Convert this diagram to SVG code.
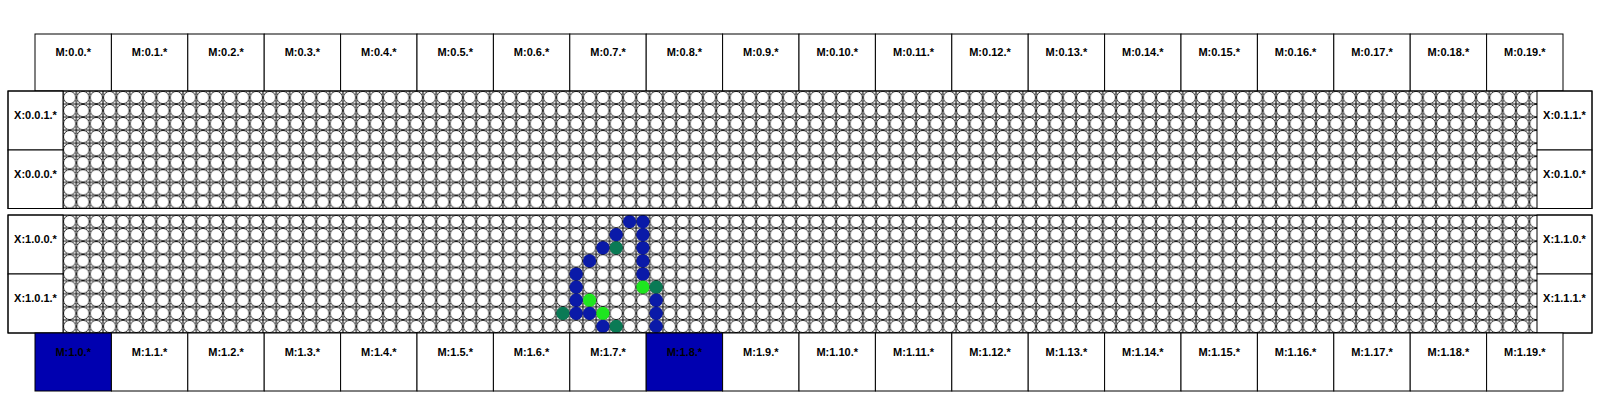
<svg xmlns="http://www.w3.org/2000/svg" width="1600" height="400" viewBox="0 0 1600 400">
<style>
.box{fill:#fff;stroke:#000;stroke-width:1}
.sel{fill:#0000b0;stroke:#000;stroke-width:1}
.frame{fill:none;stroke:#000;stroke-width:1}
text{font-family:"Liberation Sans",Arial,Helvetica,sans-serif;font-weight:bold;font-size:11px;text-anchor:middle;fill:#000}
.b{fill:#0a1aa8}
.t{fill:#0a7a55}
.g{fill:#1fe61f}
</style>
<defs>
<pattern id="cells1" patternUnits="userSpaceOnUse" x="69.665" y="97.53" width="13.33" height="13.056">
<rect width="13.33" height="13.056" fill="#fff"/>
<g fill="#fff" stroke="#000" stroke-width="0.9">
<circle cx="0" cy="0" r="6.2"/><circle cx="13.33" cy="0" r="6.2"/><circle cx="0" cy="13.056" r="6.2"/><circle cx="13.33" cy="13.056" r="6.2"/>
</g>
<path d="M2.9,6.528H10.43M6.665,2.8V10.256" stroke="#000" stroke-width="1.1"/>
</pattern>
<pattern id="cells2" patternUnits="userSpaceOnUse" x="69.665" y="221.556" width="13.33" height="13.111">
<rect width="13.33" height="13.111" fill="#fff"/>
<g fill="#fff" stroke="#000" stroke-width="0.9">
<circle cx="0" cy="0" r="6.2"/><circle cx="13.33" cy="0" r="6.2"/><circle cx="0" cy="13.111" r="6.2"/><circle cx="13.33" cy="13.111" r="6.2"/>
</g>
<path d="M2.9,6.556H10.43M6.665,2.8V10.311" stroke="#000" stroke-width="1.1"/>
</pattern>
</defs>
<rect width="1600" height="400" fill="#fff"/>

<g id="top-modules">
<g id="M0.0"><rect class="box" x="35" y="34" width="76.4" height="57"/><text x="73.2" y="56">M:0.0.*</text></g>
<g id="M0.1"><rect class="box" x="111.4" y="34" width="76.4" height="57"/><text x="149.6" y="56">M:0.1.*</text></g>
<g id="M0.2"><rect class="box" x="187.8" y="34" width="76.4" height="57"/><text x="226" y="56">M:0.2.*</text></g>
<g id="M0.3"><rect class="box" x="264.2" y="34" width="76.4" height="57"/><text x="302.4" y="56">M:0.3.*</text></g>
<g id="M0.4"><rect class="box" x="340.6" y="34" width="76.4" height="57"/><text x="378.8" y="56">M:0.4.*</text></g>
<g id="M0.5"><rect class="box" x="417" y="34" width="76.4" height="57"/><text x="455.2" y="56">M:0.5.*</text></g>
<g id="M0.6"><rect class="box" x="493.4" y="34" width="76.4" height="57"/><text x="531.6" y="56">M:0.6.*</text></g>
<g id="M0.7"><rect class="box" x="569.8" y="34" width="76.4" height="57"/><text x="608" y="56">M:0.7.*</text></g>
<g id="M0.8"><rect class="box" x="646.2" y="34" width="76.4" height="57"/><text x="684.4" y="56">M:0.8.*</text></g>
<g id="M0.9"><rect class="box" x="722.6" y="34" width="76.4" height="57"/><text x="760.8" y="56">M:0.9.*</text></g>
<g id="M0.10"><rect class="box" x="799" y="34" width="76.4" height="57"/><text x="837.2" y="56">M:0.10.*</text></g>
<g id="M0.11"><rect class="box" x="875.4" y="34" width="76.4" height="57"/><text x="913.6" y="56">M:0.11.*</text></g>
<g id="M0.12"><rect class="box" x="951.8" y="34" width="76.4" height="57"/><text x="990" y="56">M:0.12.*</text></g>
<g id="M0.13"><rect class="box" x="1028.2" y="34" width="76.4" height="57"/><text x="1066.4" y="56">M:0.13.*</text></g>
<g id="M0.14"><rect class="box" x="1104.6" y="34" width="76.4" height="57"/><text x="1142.8" y="56">M:0.14.*</text></g>
<g id="M0.15"><rect class="box" x="1181" y="34" width="76.4" height="57"/><text x="1219.2" y="56">M:0.15.*</text></g>
<g id="M0.16"><rect class="box" x="1257.4" y="34" width="76.4" height="57"/><text x="1295.6" y="56">M:0.16.*</text></g>
<g id="M0.17"><rect class="box" x="1333.8" y="34" width="76.4" height="57"/><text x="1372" y="56">M:0.17.*</text></g>
<g id="M0.18"><rect class="box" x="1410.2" y="34" width="76.4" height="57"/><text x="1448.4" y="56">M:0.18.*</text></g>
<g id="M0.19"><rect class="box" x="1486.6" y="34" width="76.4" height="57"/><text x="1524.8" y="56">M:0.19.*</text></g>
</g>

<g id="block0">
<g id="grid0"><rect x="63" y="91" width="1474" height="117.5" fill="url(#cells1)"/></g>
<g id="X0.0.1"><rect class="box" x="8" y="91" width="55" height="59"/><text x="35.5" y="119">X:0.0.1.*</text></g>
<g id="X0.0.0"><rect class="box" x="8" y="150" width="55" height="58.5"/><text x="35.5" y="178">X:0.0.0.*</text></g>
<g id="X0.1.1"><rect class="box" x="1537" y="91" width="55" height="59"/><text x="1564.5" y="119">X:0.1.1.*</text></g>
<g id="X0.1.0"><rect class="box" x="1537" y="150" width="55" height="58.5"/><text x="1564.5" y="178">X:0.1.0.*</text></g>
<rect class="frame" x="8" y="91" width="1584" height="117.5"/>
</g>

<g id="block1">
<g id="grid1"><rect x="63" y="215" width="1474" height="118" fill="url(#cells2)"/>
<circle class="b" cx="629.6" cy="221.56" r="6.6"/>
<circle class="b" cx="642.9" cy="221.56" r="6.6"/>
<circle class="b" cx="616.2" cy="234.67" r="6.6"/>
<circle class="b" cx="642.9" cy="234.67" r="6.6"/>
<circle class="b" cx="602.9" cy="247.78" r="6.6"/>
<circle class="t" cx="616.2" cy="247.78" r="6.6"/>
<circle class="b" cx="642.9" cy="247.78" r="6.6"/>
<circle class="b" cx="589.6" cy="260.89" r="6.6"/>
<circle class="b" cx="642.9" cy="260.89" r="6.6"/>
<circle class="b" cx="576.2" cy="274" r="6.6"/>
<circle class="b" cx="642.9" cy="274" r="6.6"/>
<circle class="b" cx="576.2" cy="287.11" r="6.6"/>
<circle class="g" cx="642.9" cy="287.11" r="6.6"/>
<circle class="t" cx="656.2" cy="287.11" r="6.6"/>
<circle class="b" cx="576.2" cy="300.22" r="6.6"/>
<circle class="g" cx="589.6" cy="300.22" r="6.6"/>
<circle class="b" cx="656.2" cy="300.22" r="6.6"/>
<circle class="t" cx="562.9" cy="313.33" r="6.6"/>
<circle class="b" cx="576.2" cy="313.33" r="6.6"/>
<circle class="b" cx="589.6" cy="313.33" r="6.6"/>
<circle class="g" cx="602.9" cy="313.33" r="6.6"/>
<circle class="b" cx="656.2" cy="313.33" r="6.6"/>
<circle class="b" cx="602.9" cy="326.44" r="6.6"/>
<circle class="t" cx="616.2" cy="326.44" r="6.6"/>
<circle class="b" cx="656.2" cy="326.44" r="6.6"/>
</g>
<g id="X1.0.0"><rect class="box" x="8" y="215" width="55" height="59"/><text x="35.5" y="242.5">X:1.0.0.*</text></g>
<g id="X1.0.1"><rect class="box" x="8" y="274" width="55" height="59"/><text x="35.5" y="301.5">X:1.0.1.*</text></g>
<g id="X1.1.0"><rect class="box" x="1537" y="215" width="55" height="59"/><text x="1564.5" y="242.5">X:1.1.0.*</text></g>
<g id="X1.1.1"><rect class="box" x="1537" y="274" width="55" height="59"/><text x="1564.5" y="301.5">X:1.1.1.*</text></g>
<rect class="frame" x="8" y="215" width="1584" height="118"/>
</g>

<g id="bottom-modules">
<g id="M1.0"><rect class="sel" x="35" y="333" width="76.4" height="58"/><text x="73.2" y="355.5">M:1.0.*</text></g>
<g id="M1.1"><rect class="box" x="111.4" y="333" width="76.4" height="58"/><text x="149.6" y="355.5">M:1.1.*</text></g>
<g id="M1.2"><rect class="box" x="187.8" y="333" width="76.4" height="58"/><text x="226" y="355.5">M:1.2.*</text></g>
<g id="M1.3"><rect class="box" x="264.2" y="333" width="76.4" height="58"/><text x="302.4" y="355.5">M:1.3.*</text></g>
<g id="M1.4"><rect class="box" x="340.6" y="333" width="76.4" height="58"/><text x="378.8" y="355.5">M:1.4.*</text></g>
<g id="M1.5"><rect class="box" x="417" y="333" width="76.4" height="58"/><text x="455.2" y="355.5">M:1.5.*</text></g>
<g id="M1.6"><rect class="box" x="493.4" y="333" width="76.4" height="58"/><text x="531.6" y="355.5">M:1.6.*</text></g>
<g id="M1.7"><rect class="box" x="569.8" y="333" width="76.4" height="58"/><text x="608" y="355.5">M:1.7.*</text></g>
<g id="M1.8"><rect class="sel" x="646.2" y="333" width="76.4" height="58"/><text x="684.4" y="355.5">M:1.8.*</text></g>
<g id="M1.9"><rect class="box" x="722.6" y="333" width="76.4" height="58"/><text x="760.8" y="355.5">M:1.9.*</text></g>
<g id="M1.10"><rect class="box" x="799" y="333" width="76.4" height="58"/><text x="837.2" y="355.5">M:1.10.*</text></g>
<g id="M1.11"><rect class="box" x="875.4" y="333" width="76.4" height="58"/><text x="913.6" y="355.5">M:1.11.*</text></g>
<g id="M1.12"><rect class="box" x="951.8" y="333" width="76.4" height="58"/><text x="990" y="355.5">M:1.12.*</text></g>
<g id="M1.13"><rect class="box" x="1028.2" y="333" width="76.4" height="58"/><text x="1066.4" y="355.5">M:1.13.*</text></g>
<g id="M1.14"><rect class="box" x="1104.6" y="333" width="76.4" height="58"/><text x="1142.8" y="355.5">M:1.14.*</text></g>
<g id="M1.15"><rect class="box" x="1181" y="333" width="76.4" height="58"/><text x="1219.2" y="355.5">M:1.15.*</text></g>
<g id="M1.16"><rect class="box" x="1257.4" y="333" width="76.4" height="58"/><text x="1295.6" y="355.5">M:1.16.*</text></g>
<g id="M1.17"><rect class="box" x="1333.8" y="333" width="76.4" height="58"/><text x="1372" y="355.5">M:1.17.*</text></g>
<g id="M1.18"><rect class="box" x="1410.2" y="333" width="76.4" height="58"/><text x="1448.4" y="355.5">M:1.18.*</text></g>
<g id="M1.19"><rect class="box" x="1486.6" y="333" width="76.4" height="58"/><text x="1524.8" y="355.5">M:1.19.*</text></g>
</g>

<g id="connectors"/>
</svg>
